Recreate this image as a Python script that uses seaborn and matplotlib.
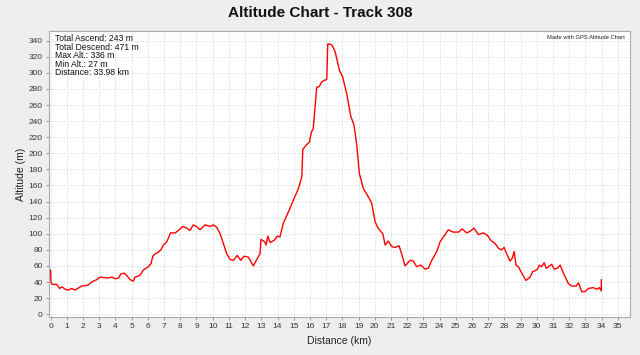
import matplotlib
matplotlib.use("Agg")
import matplotlib.pyplot as plt
import numpy as np
import pandas as pd
import seaborn as sns

# distance along track (km) and altitude (m)
distance_km = [0, 0.02, 0.1, 0.38, 0.55, 0.7, 0.9, 1.1, 1.3, 1.5,
               1.92, 2.3, 2.54, 2.85, 3.05, 3.5, 3.8, 4.0, 4.2, 4.33,
               4.54, 4.7, 4.9, 5.1, 5.2, 5.5, 5.73, 6.03, 6.2, 6.3,
               6.45, 6.65, 6.8, 6.96, 7.17, 7.4, 7.68, 7.88, 8.15, 8.4,
               8.6, 8.8, 9.0, 9.22, 9.53, 9.84, 10.05, 10.25, 10.46, 10.66,
               10.87, 11.07, 11.28, 11.52, 11.73, 11.94, 12.2, 12.51, 12.72, 12.92,
               12.98, 13.2, 13.3, 13.4, 13.55, 13.8, 14.0, 14.15, 14.36, 14.67,
               14.98, 15.29, 15.5, 15.56, 15.77, 15.97, 16.1, 16.2, 16.32, 16.42,
               16.58, 16.73, 17.04, 17.1, 17.35, 17.56, 17.82, 18.02, 18.27, 18.52,
               18.72, 18.88, 19.05, 19.3, 19.6, 19.81, 20.02, 20.2, 20.5, 20.64,
               20.84, 21.05, 21.25, 21.5, 21.66, 21.87, 22.18, 22.38, 22.59, 22.84,
               23.1, 23.3, 23.52, 23.83, 24.03, 24.24, 24.54, 24.85, 25.16, 25.4,
               25.67, 25.88, 26.12, 26.39, 26.7, 26.95, 27.15, 27.42, 27.63, 27.83,
               27.98, 28.14, 28.35, 28.5, 28.6, 28.72, 28.86, 29.07, 29.33, 29.58,
               29.75, 29.9, 30.04, 30.16, 30.3, 30.45, 30.58, 30.72, 30.92, 31.07,
               31.27, 31.44, 31.64, 31.95, 32.16, 32.43, 32.57, 32.77, 32.98, 33.18,
               33.49, 33.7, 33.86, 33.98, 33.98]
altitude_m = [55, 40, 37, 37, 32, 34, 31, 30, 32, 30,
              35, 36, 40, 43, 46, 45, 46, 44, 45, 50,
              51, 48, 43, 41, 46, 48, 55, 59, 63, 72,
              75, 77, 80, 86, 90, 101, 101, 104, 109, 107,
              104, 111, 109, 105, 111, 109, 111, 108, 100, 88,
              75, 68, 67, 73, 67, 72, 71, 60, 68, 75,
              93, 90, 86, 97, 89, 92, 97, 96, 113, 127,
              142, 156, 171, 205, 210, 214, 227, 230, 258, 282,
              283, 289, 292, 336, 335, 326, 303, 295, 274, 246,
              235, 212, 175, 156, 146, 138, 115, 107, 100, 86,
              91, 84, 83, 85, 75, 60, 67, 66, 59, 61,
              56, 57, 67, 78, 90, 96, 105, 102, 102, 106,
              101, 103, 107, 99, 101, 98, 92, 88, 82, 80,
              83, 75, 66, 70, 78, 61, 59, 51, 42, 46,
              53, 54, 56, 61, 59, 64, 57, 59, 62, 56,
              57, 61, 51, 38, 35, 35, 39, 28, 28, 32,
              33, 31, 33, 29, 43]

stats_lines = ["Total Ascend: 243 m", "Total Descend: 471 m", "Max Alt.: 336 m",
               "Min Alt.: 27 m", "Distance: 33.98 km"]
x_ticks = list(range(0, 36))
y_ticks = list(range(0, 341, 20))

sns.set_theme(style="white")
plt.rcParams['font.family'] = ['Liberation Sans', 'DejaVu Sans']

df = pd.DataFrame({"Distance (km)": distance_km, "Altitude (m)": altitude_m})

fig = plt.figure(figsize=(6.4, 3.55), dpi=100, facecolor="#eeeeee")
ax = fig.add_axes([49 / 640, 38 / 355, 581 / 640, 286 / 355])
ax.set_facecolor("white")

sns.lineplot(data=df, x="Distance (km)", y="Altitude (m)", ax=ax,
             color="#ff0000", linewidth=1.0, estimator=None, sort=False)

ax.set_xlim(-0.1, 35.75)
ax.set_ylim(-3.5, 352)
ax.set_xticks(x_ticks)
ax.set_yticks(y_ticks)
ax.grid(True, color="#d4d4d4", linestyle=(0, (1.5, 2)), linewidth=0.6)
ax.tick_params(axis="both", labelsize=6, length=2.5, width=0.6,
               color="#888888", labelcolor="#333333", pad=2, direction="out",
               bottom=True, left=True)
for s in ax.spines.values():
    s.set_color("#aaaaaa")
    s.set_linewidth(0.8)

ax.set_xlabel("Distance (km)", fontsize=7.5, color="#222222", labelpad=4)
ax.set_ylabel("Altitude (m)", fontsize=7.5, color="#222222", labelpad=2)

fig.text(0.5, 0.963, "Altitude Chart - Track 308", ha="center", va="center",
         fontsize=11, fontweight="bold", color="#111111")

ax.text(0.011, 0.988, "\n".join(stats_lines), transform=ax.transAxes,
        ha="left", va="top", fontsize=6.2, color="#111111", linespacing=0.92)
ax.text(0.992, 0.985, "Made with GPS Altitude Chart", transform=ax.transAxes,
        ha="right", va="top", fontsize=4.2, color="#222222")

fig.savefig("out.png", dpi=100, facecolor=fig.get_facecolor())
